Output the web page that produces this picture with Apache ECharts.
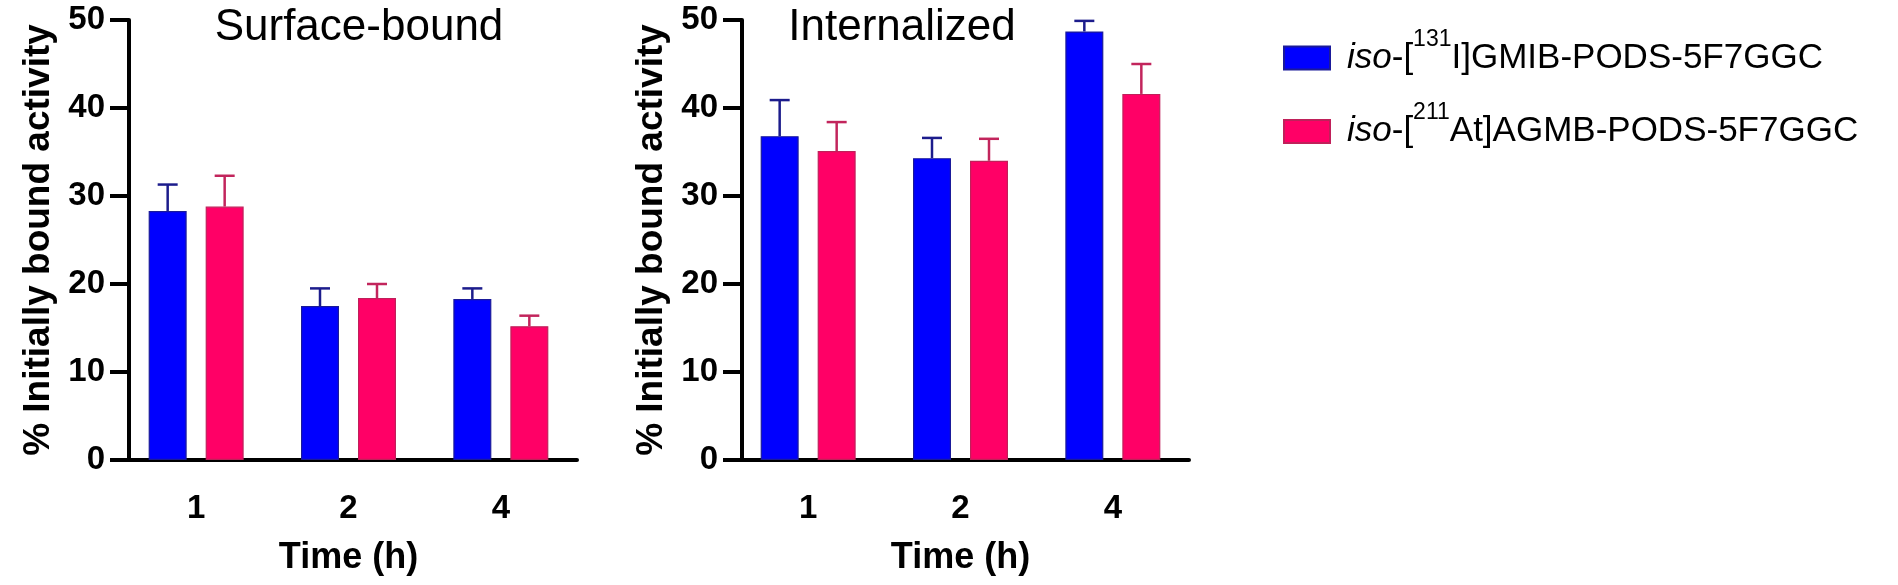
<!DOCTYPE html>
<html>
<head>
<meta charset="utf-8">
<script src="https://cdn.jsdelivr.net/npm/echarts@6/dist/echarts.min.js"></script>
<style>
  html, body { margin: 0; padding: 0; background: #fff; }
  #chart { width: 1898px; height: 585px; }
</style>
</head>
<body>
<div id="chart"></div>
<script>
// ---- data ----
const categories = ['1', '2', '4'];
const panelTitles = ['Surface-bound', 'Internalized'];
const yAxisName = '% Initially bound activity';
const xAxisName = 'Time (h)';
const yTicks = { min: 0, max: 50, interval: 10 };

const seriesNames = ['iso-[131I]GMIB-PODS-5F7GGC', 'iso-[211At]AGMB-PODS-5F7GGC'];
const legendPrefix = ['iso', 'iso'];
const legendSup = ['131', '211'];
const legendRest = ['I]GMIB-PODS-5F7GGC', 'At]AGMB-PODS-5F7GGC'];

// Surface-bound
const surfI131 = [28.3, 17.5, 18.3];
const surfI131Err = [3.0, 2.0, 1.2];
const surfAt211 = [28.8, 18.4, 15.2];
const surfAt211Err = [3.5, 1.6, 1.2];
// Internalized
const intI131 = [36.8, 34.3, 48.7];
const intI131Err = [4.1, 2.3, 1.2];
const intAt211 = [35.1, 34.0, 41.6];
const intAt211Err = [3.3, 2.5, 3.4];

// ---- styling ----
const FONT = "'Liberation Sans', Arial, Helvetica, sans-serif";
const barColors = ['#0000FF', '#FF0066'];
const barBorders = ['#1a1a9a', '#c0205a'];
const errColors = ['#1c1c8c', '#c2255c'];
const BAR_W = 38;
const BAR_GAP = 19;

const grids = [
  { left: 120, top: 20, width: 457, height: 440 },
  { left: 732, top: 20, width: 457, height: 440 }
];
const yOffsets = [-9, -10];

const chart = echarts.init(document.getElementById('chart'), null, { renderer: 'canvas' });

function errSeries(name, gridIdx, vals, errs, sign, color) {
  return {
    type: 'custom',
    name: name,
    xAxisIndex: gridIdx,
    yAxisIndex: gridIdx,
    z: 5,
    data: vals.map((v, i) => [i, v, errs[i]]),
    renderItem: function (params, api) {
      const i = api.value(0), v = api.value(1), e = api.value(2);
      const base = api.coord([i, v]);
      const top = api.coord([i, v + e]);
      const dx = sign * (BAR_W / 2 + BAR_GAP / 2);
      const x = base[0] + dx;
      const capHalf = 10;
      return {
        type: 'group',
        children: [
          { type: 'line', shape: { x1: x, y1: base[1], x2: x, y2: top[1] },
            style: { stroke: color, lineWidth: 2.5 } },
          { type: 'line', shape: { x1: x - capHalf, y1: top[1], x2: x + capHalf, y2: top[1] },
            style: { stroke: color, lineWidth: 2.5 } }
        ]
      };
    }
  };
}

function barSeries(idx, gridIdx, vals) {
  return {
    type: 'bar',
    name: seriesNames[idx],
    xAxisIndex: gridIdx,
    yAxisIndex: gridIdx,
    data: vals,
    barWidth: BAR_W,
    barGap: (BAR_GAP / BAR_W * 100) + '%',
    itemStyle: { color: barColors[idx], borderColor: barBorders[idx], borderWidth: 1.2 },
    z: 3
  };
}

const xAxes = grids.map((g, k) => ({
  type: 'category',
  gridIndex: k,
  data: categories,
  boundaryGap: true,
  axisLine: { lineStyle: { color: '#000', width: 4 } },
  axisTick: { alignWithLabel: true, length: 17, lineStyle: { color: '#000', width: 4 } },
  axisLabel: { color: '#000', fontSize: 33, fontWeight: 'bold', fontFamily: FONT, margin: 32 },
  name: xAxisName,
  nameLocation: 'middle',
  nameGap: 80,
  nameTextStyle: { color: '#000', fontSize: 36, fontWeight: 'bold', fontFamily: FONT }
}));

const yAxes = grids.map((g, k) => ({
  type: 'value',
  gridIndex: k,
  min: yTicks.min,
  max: yTicks.max,
  interval: yTicks.interval,
  offset: yOffsets[k],
  splitLine: { show: false },
  axisLine: { show: true, lineStyle: { color: '#000', width: 4 } },
  axisTick: { show: true, length: 19, lineStyle: { color: '#000', width: 4 } },
  axisLabel: { color: '#000', fontSize: 33, fontWeight: 'bold', fontFamily: FONT, margin: 24 },
  name: yAxisName,
  nameLocation: 'middle',
  nameGap: 72,
  nameRotate: 90,
  nameTextStyle: { color: '#000', fontSize: 37, fontWeight: 'bold', fontFamily: FONT }
}));

const option = {
  backgroundColor: '#ffffff',
  animation: false,
  textStyle: { fontFamily: FONT },
  title: [
    { text: panelTitles[0], left: 359, top: 6, padding: 0, textAlign: 'center',
      textStyle: { fontSize: 44, fontWeight: 'normal', color: '#000', fontFamily: FONT } },
    { text: panelTitles[1], left: 902, top: 6, padding: 0, textAlign: 'center',
      textStyle: { fontSize: 44, fontWeight: 'normal', color: '#000', fontFamily: FONT } }
  ],
  legend: {
    data: seriesNames,
    orient: 'vertical',
    left: 1283,
    top: 28,
    padding: 0,
    itemWidth: 46,
    itemHeight: 23,
    itemGap: 26,
    icon: 'rect',
    selectedMode: false,
    formatter: function (name) {
      const k = seriesNames.indexOf(name);
      return '{g|}{it|' + legendPrefix[k] + '}{n|-[}{sup|' + legendSup[k] + '}{n|' + legendRest[k] + '}';
    },
    textStyle: {
      color: '#000',
      fontFamily: FONT,
      fontSize: 35,
      rich: {
        g: { width: 12, lineHeight: 60 },
        it: { fontStyle: 'italic', fontSize: 35, lineHeight: 60, fontFamily: FONT, color: '#000' },
        n: { fontSize: 35, lineHeight: 60, fontFamily: FONT, color: '#000' },
        sup: { fontSize: 23, lineHeight: 24, verticalAlign: 'top', fontFamily: FONT, color: '#000' }
      }
    }
  },
  grid: grids,
  xAxis: xAxes,
  yAxis: yAxes,
  series: [
    barSeries(0, 0, surfI131),
    barSeries(1, 0, surfAt211),
    errSeries('errSurf0', 0, surfI131, surfI131Err, -1, errColors[0]),
    errSeries('errSurf1', 0, surfAt211, surfAt211Err, 1, errColors[1]),
    barSeries(0, 1, intI131),
    barSeries(1, 1, intAt211),
    errSeries('errInt0', 1, intI131, intI131Err, -1, errColors[0]),
    errSeries('errInt1', 1, intAt211, intAt211Err, 1, errColors[1])
  ]
};

chart.setOption(option);
</script>
</body>
</html>
